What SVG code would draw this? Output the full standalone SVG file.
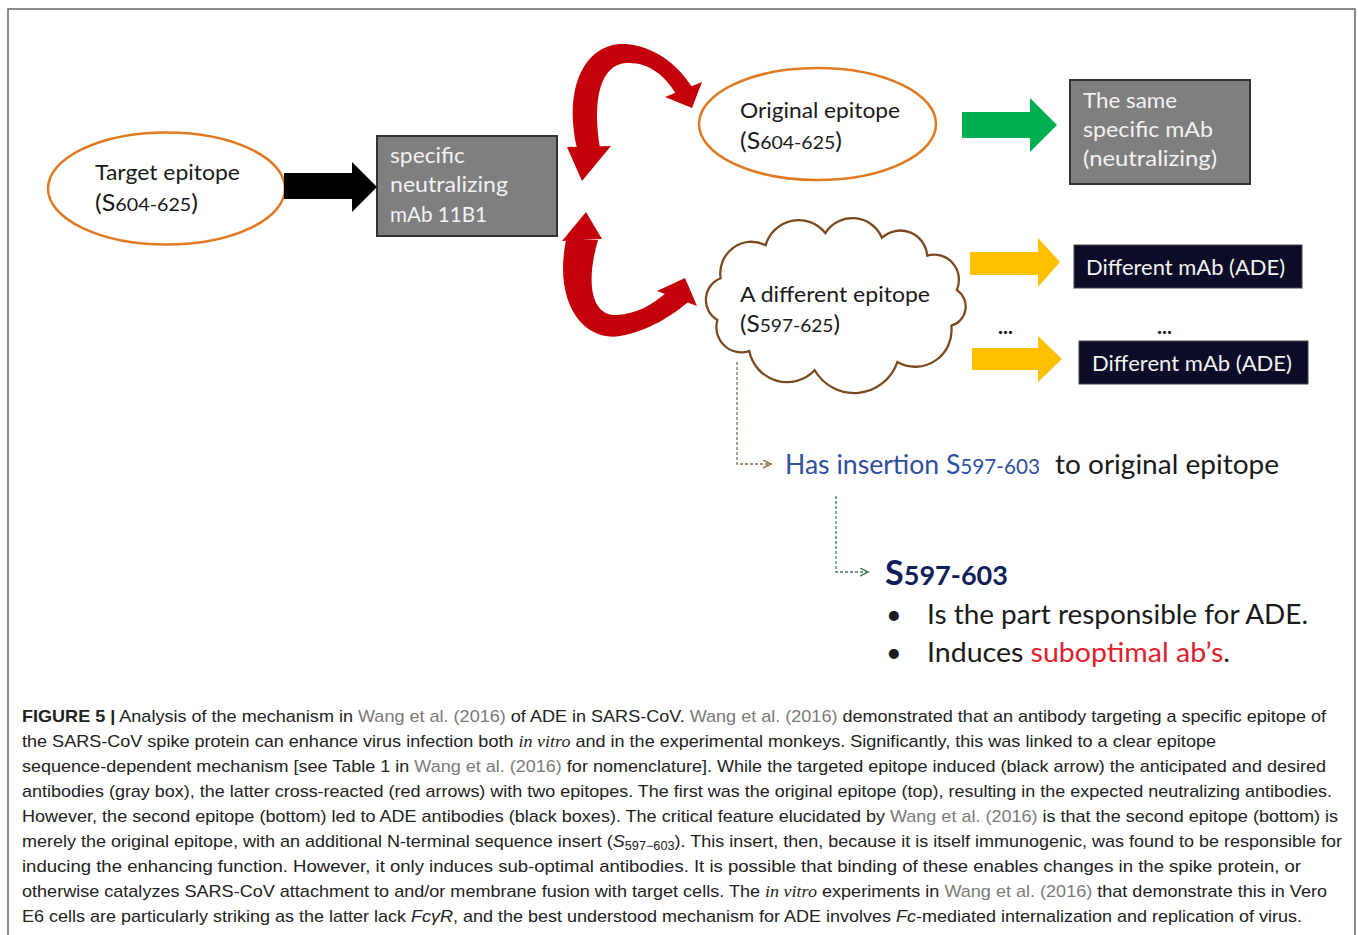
<svg xmlns="http://www.w3.org/2000/svg" width="1358" height="935" viewBox="0 0 1358 935">
<style>
.lbl{font-family:Lato,"Open Sans","Noto Sans",sans-serif;font-size:21px;fill:#1a1a1a}
.wt{font-family:Lato,"Open Sans","Noto Sans",sans-serif;font-size:21px;fill:#f2f2f2}
.ell{fill:#fff;stroke:#e07a22;stroke-width:2.5}
.gbox{fill:#7f7f7f;stroke:#333;stroke-width:2}
.bbox{fill:#0c0c28;stroke:#444;stroke-width:1}
.red{fill:#c4000a}
.cap{font-family:"Liberation Sans",Arial,sans-serif;font-size:17px;fill:#222}
.ref{fill:#7a7a7a}
.iv{font-family:"Liberation Serif",serif;font-style:italic}
.big{font-family:Lato,"Open Sans","Noto Sans",sans-serif;font-size:27px}
</style>
<defs>
<linearGradient id="rg" x1="0" y1="0" x2="1" y2="0">
<stop offset="0" stop-color="#9c0008"/><stop offset="0.35" stop-color="#c4000a"/><stop offset="1" stop-color="#c8000c"/>
</linearGradient>
<marker id="mb" markerWidth="10" markerHeight="10" refX="8" refY="4" orient="auto" markerUnits="userSpaceOnUse">
<path d="M0,0 L8,4 L0,8" fill="none" stroke="#8a6a48" stroke-width="1.4"/>
</marker>
<marker id="mg" markerWidth="10" markerHeight="10" refX="8" refY="4" orient="auto" markerUnits="userSpaceOnUse">
<path d="M0,0 L8,4 L0,8" fill="none" stroke="#3f7a58" stroke-width="1.4"/>
</marker>
</defs>
<rect width="1358" height="935" fill="#fff"/>
<path d="M8,935 V9 H1355 V935" fill="none" stroke="#666" stroke-width="1.5"/>

<g id="target-epitope">
<ellipse class="ell" cx="166.5" cy="188.5" rx="118.5" ry="56"/>
<text class="lbl" x="95" y="180" textLength="145" lengthAdjust="spacingAndGlyphs">Target epitope</text>
<text class="lbl" x="95" y="211" textLength="103" lengthAdjust="spacingAndGlyphs"><tspan font-size="23">(S</tspan><tspan font-size="18">604-625</tspan><tspan font-size="23">)</tspan></text>
</g>

<g id="mab-11b1">
<rect class="gbox" x="377" y="136" width="180" height="100"/>
<text class="wt" x="390" y="163" textLength="75" lengthAdjust="spacingAndGlyphs">specific</text>
<text class="wt" x="390" y="192" textLength="118" lengthAdjust="spacingAndGlyphs">neutralizing</text>
<text class="wt" x="390" y="222" textLength="97" lengthAdjust="spacingAndGlyphs">mAb 11B1</text>
</g>

<g id="original-epitope">
<ellipse class="ell" cx="817.5" cy="124" rx="118.5" ry="56"/>
<text class="lbl" x="740" y="118" textLength="160" lengthAdjust="spacingAndGlyphs">Original epitope</text>
<text class="lbl" x="740" y="149" textLength="102" lengthAdjust="spacingAndGlyphs"><tspan font-size="23">(S</tspan><tspan font-size="18">604-625</tspan><tspan font-size="23">)</tspan></text>
</g>

<g id="same-mab">
<rect class="gbox" x="1070" y="80" width="180" height="104"/>
<text class="wt" x="1083" y="108" textLength="94" lengthAdjust="spacingAndGlyphs">The same</text>
<text class="wt" x="1083" y="137" textLength="130" lengthAdjust="spacingAndGlyphs">specific mAb</text>
<text class="wt" x="1083" y="166" textLength="134" lengthAdjust="spacingAndGlyphs">(neutralizing)</text>
</g>

<g id="different-epitope">
<path transform="translate(836,302) scale(1.04,1.05) translate(-836,-302)" d="M725.1,279.4 A30,30 0 0 1 768.3,247.9 A33,33 0 0 1 825.7,236.3 A31,31 0 0 1 880.2,240.8 A26,26 0 0 1 923.7,257.8 A24,24 0 0 1 952.2,290.5 A19,19 0 0 1 946.9,324.6 A35,35 0 0 1 895,359.2 A44,44 0 0 1 815.5,367 A37,37 0 0 1 752.6,348.7 A24,24 0 0 1 722,319.1 A22,22 0 0 1 725.1,279.4 Z" fill="#fff" stroke="#7a4a1e" stroke-width="2.2"/>
<text class="lbl" x="740" y="302" textLength="190" lengthAdjust="spacingAndGlyphs">A different epitope</text>
<text class="lbl" x="740" y="332" textLength="100" lengthAdjust="spacingAndGlyphs"><tspan font-size="23">(S</tspan><tspan font-size="18">597-625</tspan><tspan font-size="23">)</tspan></text>
</g>

<g id="ade-mab-1">
<rect class="bbox" x="1074" y="245" width="228" height="43"/>
<text class="wt" x="1086" y="275" textLength="199" lengthAdjust="spacingAndGlyphs">Different mAb (ADE)</text>
</g>

<g id="ade-mab-2">
<rect class="bbox" x="1079" y="341" width="229" height="43"/>
<text class="wt" x="1092" y="371" textLength="200" lengthAdjust="spacingAndGlyphs">Different mAb (ADE)</text>
</g>

<g id="ellipses-dots">
<text class="lbl" x="998" y="334" font-weight="bold">...</text>
<text class="lbl" x="1157" y="334" font-weight="bold">...</text>
</g>

<g id="insertion-note">
<text x="785" y="474" class="big" fill="#2f4f9f" textLength="255" lengthAdjust="spacingAndGlyphs">Has insertion S<tspan font-size="21">597-603</tspan></text>
<text x="1055" y="474" class="big" fill="#1a1a1a" textLength="224" lengthAdjust="spacingAndGlyphs">to original epitope</text>
</g>

<g id="s597-603-note">
<text x="885" y="585" font-family="Lato,'Open Sans',sans-serif" font-weight="bold" fill="#0f1f5c" textLength="123" lengthAdjust="spacingAndGlyphs"><tspan font-size="34">S</tspan><tspan font-size="27">597-603</tspan></text>
<text x="886" y="624" class="big" fill="#1a1a1a">•</text>
<text x="927" y="624" class="big" fill="#1a1a1a" textLength="381" lengthAdjust="spacingAndGlyphs">Is the part responsible for ADE.</text>
<text x="886" y="662" class="big" fill="#1a1a1a">•</text>
<text x="927" y="662" class="big" fill="#1a1a1a" textLength="303" lengthAdjust="spacingAndGlyphs">Induces <tspan fill="#e2202c">suboptimal ab’s</tspan>.</text>
</g>

<g id="connectors">
<polygon points="284,173 352,173 352,162 377,187 352,212 352,199 284,199" fill="#000"/>
<path class="red" fill="url(#rg)" d="M577,148 C562,80 590,42 625,44 C655,46 678,65 692,87 L676,94 C665,75 648,62 627,63 C600,64 592,100 600,148 Z"/>
<polygon class="red" points="567,147 611,146 582,181"/>
<polygon class="red" points="665,97 702,82 692,108"/>
<path class="red" fill="url(#rg)" d="M566,240 C553,305 585,342 620,336 C648,331 672,316 688,302 L666,293 C652,305 636,314 617,315 C592,316 585,285 598,240 Z"/>
<polygon class="red" points="562,241 602,239 586,212"/>
<polygon class="red" points="657,291 697,306 685,278"/>
<polygon points="962,112 1030,112 1030,98 1057,125 1030,152 1030,138 962,138" fill="#00b050"/>
<polygon points="970,252 1038,252 1038,238 1060,262 1038,287 1038,275 970,275" fill="#ffc000"/>
<polygon points="972,348 1038,348 1038,336 1062,359 1038,382 1038,370 972,370" fill="#ffc000"/>
<path d="M737,362 V464 H771" fill="none" stroke="#8a6a48" stroke-width="1.3" stroke-dasharray="3,2" marker-end="url(#mb)"/>
<path d="M836,496 V572 H868" fill="none" stroke="#3f7a58" stroke-width="1.3" stroke-dasharray="3,2" marker-end="url(#mg)"/>
</g>

<g id="caption">
<text class="cap" x="22" y="722" textLength="1304" lengthAdjust="spacingAndGlyphs"><tspan font-weight="bold">FIGURE 5 |</tspan> Analysis of the mechanism in <tspan class="ref">Wang et al. (2016)</tspan> of ADE in SARS-CoV. <tspan class="ref">Wang et al. (2016)</tspan> demonstrated that an antibody targeting a specific epitope of</text>
<text class="cap" x="22" y="747" textLength="1194" lengthAdjust="spacingAndGlyphs">the SARS-CoV spike protein can enhance virus infection both <tspan class="iv">in vitro</tspan> and in the experimental monkeys. Significantly, this was linked to a clear epitope</text>
<text class="cap" x="22" y="772" textLength="1304" lengthAdjust="spacingAndGlyphs">sequence-dependent mechanism [see Table 1 in <tspan class="ref">Wang et al. (2016)</tspan> for nomenclature]. While the targeted epitope induced (black arrow) the anticipated and desired</text>
<text class="cap" x="22" y="797" textLength="1310" lengthAdjust="spacingAndGlyphs">antibodies (gray box), the latter cross-reacted (red arrows) with two epitopes. The first was the original epitope (top), resulting in the expected neutralizing antibodies.</text>
<text class="cap" x="22" y="822" textLength="1316" lengthAdjust="spacingAndGlyphs">However, the second epitope (bottom) led to ADE antibodies (black boxes). The critical feature elucidated by <tspan class="ref">Wang et al. (2016)</tspan> is that the second epitope (bottom) is</text>
<text class="cap" x="22" y="847" textLength="1320" lengthAdjust="spacingAndGlyphs">merely the original epitope, with an additional N-terminal sequence insert (<tspan font-style="italic">S</tspan><tspan font-size="12" dy="3">597−603</tspan><tspan dy="-3">). This insert, then, because it is itself immunogenic, was found to be responsible for</tspan></text>
<text class="cap" x="22" y="872" textLength="1279" lengthAdjust="spacingAndGlyphs">inducing the enhancing function. However, it only induces sub-optimal antibodies. It is possible that binding of these enables changes in the spike protein, or</text>
<text class="cap" x="22" y="897" textLength="1305" lengthAdjust="spacingAndGlyphs">otherwise catalyzes SARS-CoV attachment to and/or membrane fusion with target cells. The <tspan class="iv">in vitro</tspan> experiments in <tspan class="ref">Wang et al. (2016)</tspan> that demonstrate this in Vero</text>
<text class="cap" x="22" y="922" textLength="1280" lengthAdjust="spacingAndGlyphs">E6 cells are particularly striking as the latter lack <tspan font-style="italic">FcγR</tspan>, and the best understood mechanism for ADE involves <tspan font-style="italic">Fc</tspan>-mediated internalization and replication of virus.</text>
</g>
</svg>
